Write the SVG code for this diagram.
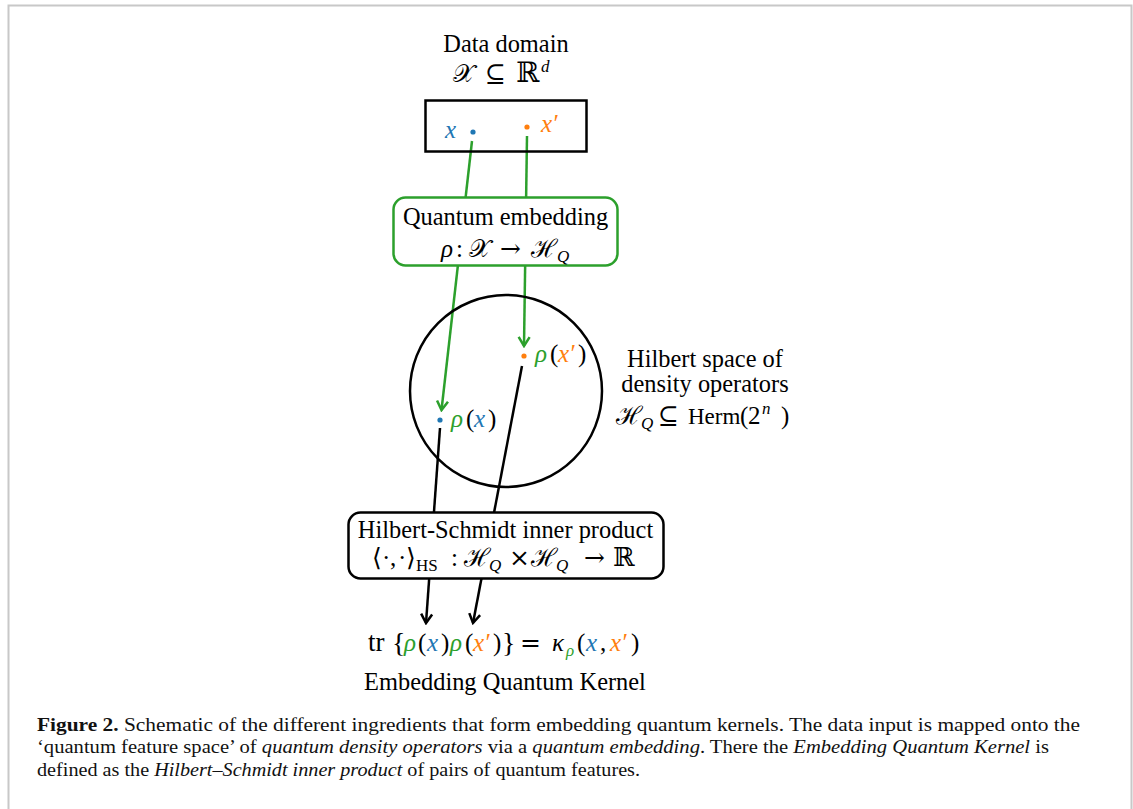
<svg xmlns="http://www.w3.org/2000/svg" width="1133" height="809" viewBox="0 0 1133 809">
<defs>
<style>
.t{font-family:"Liberation Serif","DejaVu Serif",serif;font-size:24.4px;fill:#000}
.m{font-family:"Liberation Serif","DejaVu Serif",serif;font-size:25px;fill:#000}
.i{font-style:italic}
.b{fill:#1f77b4}
.o{fill:#ff7f0e}
.g{fill:#2ca02c}
.s{font-size:17px}
.sym{font-family:"DejaVu Serif","Noto Sans",serif}
.cap{font-family:"Liberation Serif","DejaVu Serif",serif;font-size:18px;fill:#111}
.gl{stroke:#2ca02c;stroke-width:2.5;fill:none}
.kl{stroke:#000;stroke-width:2.5;fill:none}
</style>
<marker id="ag" markerUnits="userSpaceOnUse" viewBox="-12 -8 14 16" refX="0" refY="0" markerWidth="14" markerHeight="16" orient="auto">
<path d="M-9,-5.5 L0,0 L-9,5.5" fill="none" stroke="#2ca02c" stroke-width="2.5"/>
</marker>
<marker id="ak" markerUnits="userSpaceOnUse" viewBox="-12 -8 14 16" refX="0" refY="0" markerWidth="14" markerHeight="16" orient="auto">
<path d="M-9,-5.5 L0,0 L-9,5.5" fill="none" stroke="#000" stroke-width="2.5"/>
</marker>
</defs>
<rect x="0" y="0" width="1133" height="809" fill="#fff"/>
<path d="M8.5,809 V5.5 H1131.5 V809" fill="none" stroke="#c8c8c8" stroke-width="2"/>

<g id="connectors">
<line class="gl" x1="472" y1="141" x2="441.5" y2="410" marker-end="url(#ag)"/>
<line class="gl" x1="527" y1="136" x2="524" y2="346" marker-end="url(#ag)"/>
<line class="kl" x1="440" y1="428" x2="426" y2="623" marker-end="url(#ak)"/>
<line class="kl" x1="522" y1="366" x2="473" y2="623" marker-end="url(#ak)"/>
</g>

<g id="data-domain">
<text class="t" x="506" y="52" text-anchor="middle">Data domain</text>
<text class="m" y="82"><tspan class="sym" x="453">𝒳</tspan><tspan class="sym" x="485">⊆</tspan><tspan class="sym" x="516" font-size="28">ℝ</tspan><tspan class="i s" x="541" dy="-10">d</tspan></text>
<rect x="425.5" y="100.5" width="161" height="51" fill="none" stroke="#000" stroke-width="2.5"/>
<circle cx="473" cy="132" r="2.6" fill="#1f77b4"/>
<circle cx="527" cy="127" r="2.6" fill="#ff7f0e"/>
<text class="m i b" x="445" y="138">x</text>
<text class="m i o" x="541" y="132">x′</text>
</g>

<g id="quantum-embedding">
<rect x="393.5" y="197.5" width="224" height="68" rx="12" fill="#fff" stroke="#2ca02c" stroke-width="2.5"/>
<text class="t" x="505.5" y="225" text-anchor="middle">Quantum embedding</text>
<text class="m" y="257"><tspan class="i" x="441">ρ</tspan><tspan x="456">:</tspan><tspan class="sym" x="469">𝒳</tspan><tspan class="sym" x="500">→</tspan><tspan class="sym" x="531">ℋ</tspan><tspan class="i s" x="557" dy="5">Q</tspan></text>
</g>

<g id="hilbert-space">
<circle cx="506" cy="391" r="96" fill="none" stroke="#000" stroke-width="2.5"/>
<circle cx="524" cy="356" r="2.6" fill="#ff7f0e"/>
<circle cx="440" cy="420" r="2.6" fill="#1f77b4"/>
<text class="m" y="362"><tspan class="i g" x="535">ρ</tspan><tspan x="550">(</tspan><tspan class="i o" x="558">x′</tspan><tspan x="578">)</tspan></text>
<text class="m" y="427"><tspan class="i g" x="451">ρ</tspan><tspan x="466">(</tspan><tspan class="i b" x="474">x</tspan><tspan x="488">)</tspan></text>
<text class="t" x="705" y="367" text-anchor="middle">Hilbert space of</text>
<text class="t" x="705" y="392" text-anchor="middle">density operators</text>
<text class="m" y="424"><tspan class="sym" x="616">ℋ</tspan><tspan class="i s" x="641" dy="5">Q</tspan><tspan class="sym" x="658" dy="-5">⊆</tspan><tspan x="688" font-size="23">Herm</tspan><tspan x="740">(</tspan><tspan x="748">2</tspan><tspan class="i s" x="762" dy="-10">n</tspan><tspan x="781" dy="10">)</tspan></text>
</g>

<g id="hs-inner-product">
<rect x="348.5" y="512.5" width="315" height="66" rx="12" fill="#fff" stroke="#000" stroke-width="2.5"/>
<text class="t" x="505.5" y="538" text-anchor="middle">Hilbert-Schmidt inner product</text>
<text class="m" y="566"><tspan x="372">⟨</tspan><tspan x="382">·</tspan><tspan x="390">,</tspan><tspan x="398">·</tspan><tspan x="406">⟩</tspan><tspan class="s" x="416" dy="5">HS</tspan><tspan x="451" dy="-5">:</tspan><tspan class="sym" x="464">ℋ</tspan><tspan class="i s" x="489" dy="5">Q</tspan><tspan class="sym" x="509" dy="-5">×</tspan><tspan class="sym" x="531">ℋ</tspan><tspan class="i s" x="556" dy="5">Q</tspan><tspan class="sym" x="584" dy="-5">→</tspan><tspan class="sym" x="613" font-size="26">ℝ</tspan></text>
</g>

<g id="kernel">
<text class="m" y="651"><tspan x="368" font-size="27">tr</tspan><tspan x="392" font-size="28" dy="1">{</tspan><tspan class="i g" x="404" dy="-1">ρ</tspan><tspan x="418">(</tspan><tspan class="i b" x="427">x</tspan><tspan x="441">)</tspan><tspan class="i g" x="450">ρ</tspan><tspan x="465">(</tspan><tspan class="i o" x="473">x′</tspan><tspan x="493">)</tspan><tspan x="502" font-size="28" dy="1">}</tspan><tspan class="sym" x="520" dy="-1">=</tspan><tspan class="i" x="552">κ</tspan><tspan class="i g s" x="566" dy="5">ρ</tspan><tspan x="577" dy="-5">(</tspan><tspan class="i b" x="586">x</tspan><tspan x="600">,</tspan><tspan class="i o" x="610">x′</tspan><tspan x="631">)</tspan></text>
<text class="t" x="505" y="690" text-anchor="middle">Embedding Quantum Kernel</text>
</g>

<g id="caption">
<text class="cap" x="37" y="731" textLength="1043" lengthAdjust="spacingAndGlyphs"><tspan font-weight="bold">Figure 2.</tspan> Schematic of the different ingredients that form embedding quantum kernels. The data input is mapped onto the</text>
<text class="cap" x="37" y="753" textLength="1012" lengthAdjust="spacingAndGlyphs">‘quantum feature space’ of <tspan font-style="italic">quantum density operators</tspan> via a <tspan font-style="italic">quantum embedding</tspan>. There the <tspan font-style="italic">Embedding Quantum Kernel</tspan> is</text>
<text class="cap" x="37" y="776" textLength="603" lengthAdjust="spacingAndGlyphs">defined as the <tspan font-style="italic">Hilbert–Schmidt inner product</tspan> of pairs of quantum features.</text>
</g>
</svg>
